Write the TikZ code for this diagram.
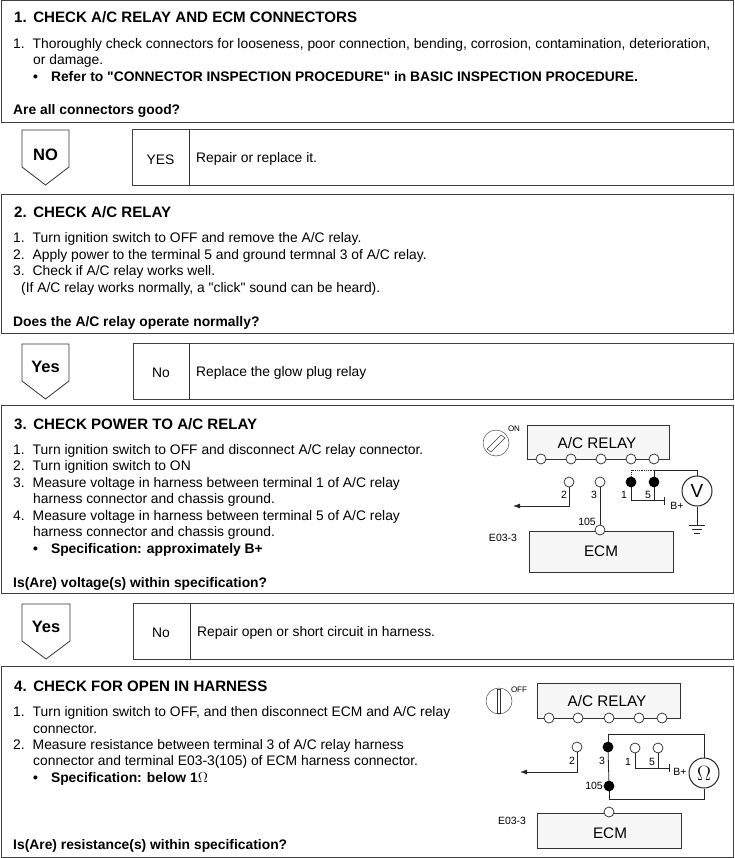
\documentclass[tikz,border=0pt]{standalone}
\usepackage{fontspec}
\setmainfont{Liberation Sans}[Ligatures=TeXOff]
\usetikzlibrary{shapes.geometric,arrows.meta}

\begin{document}
\begin{tikzpicture}
[every node/.style={inner sep=0pt},
 line/.style={line width=0.8pt, color=black!80},
 wire/.style={line width=0.8pt, color=black!85},
 panel/.style={rectangle, draw=black!75, line width=0.9pt, anchor=north west},
 unit/.style={rectangle, draw=black!80, fill=black!3, line width=0.8pt, anchor=north west},
 head/.style={anchor=west, font=\fontsize{15.1}{17}\selectfont\bfseries},
 body/.style={anchor=west, yshift=-1pt, font=\fontsize{13.85}{16}\selectfont},
 ask/.style={anchor=west, yshift=-1pt, font=\fontsize{13.85}{16}\selectfont\bfseries},
 tag/.style={font=\fontsize{13.85}{16}\selectfont},
 arrowlabel/.style={font=\fontsize{16.5}{18}\selectfont\bfseries},
 unitlabel/.style={font=\fontsize{15.3}{17}\selectfont},
 small/.style={font=\fontsize{10.5}{12}\selectfont},
 tiny/.style={font=\fontsize{8}{9}\selectfont},
 pinopen/.style={circle, minimum size=10pt, fill=white, draw=black!85, line width=0.7pt},
 pinfull/.style={circle, minimum size=10pt, fill=black, draw=black, line width=0.7pt},
 meter/.style={circle, minimum size=30pt, fill=white, draw=black!85, line width=1pt}]
\useasboundingbox (0pt,0pt) rectangle (734pt,-858pt);

% step 1
\node (panel1) [panel, minimum width=732pt, minimum height=122pt] at (1pt, 0pt) {};
\node (head1) [head] at (14pt, -17pt) {1.\hspace{6.5pt}CHECK A/C RELAY AND ECM CONNECTORS};
\node (text11) [body] at (13pt, -44pt) {1.\hspace{8pt}Thoroughly check connectors for looseness, poor connection, bending, corrosion, contamination, deterioration,};
\node (text12) [body] at (33pt, -60pt) {or damage.};
\node (text13) [ask] at (33pt, -76pt) {\textbullet\hspace{13pt}Refer to "CONNECTOR INSPECTION PROCEDURE" in BASIC INSPECTION PROCEDURE.};
\node (ask1) [ask] at (13pt, -110pt) {Are all connectors good?};

\draw [line] (22pt,-130pt) -- (69pt,-130pt) -- (69pt,-167pt) -- (45.5pt,-185pt) -- (22pt,-167pt) -- cycle;
\node (go1) [arrowlabel] at (45.5pt, -155pt) {NO};
\node (side1) [panel, minimum width=601pt, minimum height=56pt] at (132pt, -129pt) {};
\coordinate (cut1a) at (189pt, -129pt);
\coordinate (cut1b) at (189pt, -185pt);
\draw [line] (cut1a) to (cut1b);
\node (tag1) [tag] at (160.5pt, -160pt) {YES};
\node (fix1) [body] at (196pt, -158pt) {Repair or replace it.};

% step 2
\node (panel2) [panel, minimum width=732pt, minimum height=139pt] at (1pt, -194pt) {};
\node (head2) [head] at (14pt, -212pt) {2.\hspace{6.5pt}CHECK A/C RELAY};
\node (text21) [body] at (13pt, -238pt) {1.\hspace{8pt}Turn ignition switch to OFF and remove the A/C relay.};
\node (text22) [body] at (13pt, -255pt) {2.\hspace{8pt}Apply power to the terminal 5 and ground termnal 3 of A/C relay.};
\node (text23) [body] at (13pt, -271pt) {3.\hspace{8pt}Check if A/C relay works well.};
\node (text24) [body] at (21pt, -288pt) {(If A/C relay works normally, a "click" sound can be heard).};
\node (ask2) [ask] at (13pt, -322pt) {Does the A/C relay operate normally?};

\draw [line] (22pt,-344pt) -- (69pt,-344pt) -- (69pt,-381pt) -- (45.5pt,-399pt) -- (22pt,-381pt) -- cycle;
\node (go2) [arrowlabel] at (45.5pt, -367pt) {Yes};
\node (side2) [panel, minimum width=600pt, minimum height=56pt] at (133pt, -343pt) {};
\coordinate (cut2a) at (189pt, -343pt);
\coordinate (cut2b) at (189pt, -399pt);
\draw [line] (cut2a) to (cut2b);
\node (tag2) [tag] at (161pt, -373pt) {No};
\node (fix2) [body] at (196pt, -372pt) {Replace the glow plug relay};

% step 3
\node (panel3) [panel, minimum width=732pt, minimum height=188pt] at (1pt, -405pt) {};
\node (head3) [head] at (14pt, -424pt) {3.\hspace{6.5pt}CHECK POWER TO A/C RELAY};
\node (text31) [body] at (13pt, -450pt) {1.\hspace{8pt}Turn ignition switch to OFF and disconnect A/C relay connector.};
\node (text32) [body] at (13pt, -466pt) {2.\hspace{8pt}Turn ignition switch to ON};
\node (text33) [body] at (13pt, -483pt) {3.\hspace{8pt}Measure voltage in harness between terminal 1 of A/C relay};
\node (text34) [body] at (33pt, -499pt) {harness connector and chassis ground.};
\node (text35) [body] at (13pt, -516pt) {4.\hspace{8pt}Measure voltage in harness between terminal 5 of A/C relay};
\node (text36) [body] at (33pt, -532pt) {harness connector and chassis ground.};
\node (text37) [ask] at (33pt, -549pt) {\textbullet\hspace{13pt}Specification: approximately B+};
\node (ask3) [ask] at (13pt, -583pt) {Is(Are) voltage(s) within specification?};

\node (key3) [circle, minimum size=26pt, draw=black!70, line width=0.5pt] at (496pt, -443pt) {};
\draw [line, line width=0.5pt] (487pt,-449pt) -- (501pt,-435pt) -- (505pt,-438pt) -- (491pt,-452pt) -- cycle;
\node (on3) [tiny] at (514pt, -429pt) {ON};
\node (relay3) [unit, minimum width=142pt, minimum height=34pt] at (527pt, -425pt) {};
\node (relaytext3) [unitlabel] at (597pt, -443pt) {A/C RELAY};
\node (a1) [pinopen] at (541pt, -459pt) {};
\node (a2) [pinopen] at (571pt, -459pt) {};
\node (a3) [pinopen] at (601pt, -459pt) {};
\node (a4) [pinopen] at (631pt, -459pt) {};
\node (a5) [pinopen] at (654pt, -459pt) {};
\node (b2) [pinopen] at (569pt, -482pt) {};
\node (b3) [pinopen] at (600pt, -482pt) {};
\node (b1) [pinfull] at (631pt, -482pt) {};
\node (b5) [pinfull] at (654pt, -482pt) {};
\node (ecm3) [unit, minimum width=144pt, minimum height=41pt] at (529pt, -531pt) {};
\node (ecmtext3) [unitlabel] at (601pt, -551pt) {ECM};
\node (e105) [pinopen] at (600pt, -530pt) {};
\node (volt) [meter, font=\fontsize{19}{21}\selectfont] at (697pt, -491pt) {V};
\node (n2) [small] at (564pt, -495pt) {2};
\node (n3) [small] at (594pt, -495pt) {3};
\node (n1) [small] at (624pt, -495pt) {1};
\node (n5) [small] at (648pt, -495pt) {5};
\node (n105) [small] at (587pt, -522pt) {105};
\node (bplus3) [small] at (677pt, -506pt) {B+};
\node (conn3) [small] at (503pt, -538pt) {E03-3};
\coordinate (left3) at (513pt, -506pt);
\coordinate (join3) at (654pt, -500pt);
\coordinate (bartop3) at (664pt, -497pt);
\coordinate (barend3) at (664pt, -505pt);
\coordinate (mid3) at (664pt, -500pt);
\coordinate (over3) at (654pt, -470pt);
\coordinate (overb3) at (631pt, -470pt);
\coordinate (up3) at (697pt, -470pt);
\coordinate (earth3) at (697pt, -525pt);
\coordinate (g1a) at (689pt, -525pt);
\coordinate (g1b) at (705pt, -525pt);
\coordinate (g2a) at (692pt, -529pt);
\coordinate (g2b) at (702pt, -529pt);
\coordinate (g3a) at (694pt, -533pt);
\coordinate (g3b) at (700pt, -533pt);
\draw [wire, -{Latex[length=7pt, width=5pt]}] (b2) |- (left3);
\draw [wire] (b3) to (e105);
\draw [wire] (b1) |- (mid3);
\draw [wire] (b5) to (join3);
\draw [wire] (bartop3) to (barend3);
\draw [wire] (b5) |- (up3) to (volt);
\draw [wire, densely dotted] (over3) to (overb3) to (b1);
\draw [wire] (volt) to (earth3);
\draw [wire] (g1a) to (g1b);
\draw [wire] (g2a) to (g2b);
\draw [wire] (g3a) to (g3b);

\draw [line] (22pt,-604pt) -- (70pt,-604pt) -- (70pt,-641pt) -- (46pt,-659pt) -- (22pt,-641pt) -- cycle;
\node (go3) [arrowlabel] at (46pt, -627pt) {Yes};
\node (side3) [panel, minimum width=600pt, minimum height=56pt] at (133pt, -603pt) {};
\coordinate (cut3a) at (190pt, -603pt);
\coordinate (cut3b) at (190pt, -659pt);
\draw [line] (cut3a) to (cut3b);
\node (tag3) [tag] at (161pt, -633pt) {No};
\node (fix3) [body] at (197pt, -632pt) {Repair open or short circuit in harness.};

% step 4
\node (panel4) [panel, minimum width=732pt, minimum height=191pt] at (1pt, -666pt) {};
\node (head4) [head] at (14pt, -686pt) {4.\hspace{6.5pt}CHECK FOR OPEN IN HARNESS};
\node (text41) [body] at (13pt, -712pt) {1.\hspace{8pt}Turn ignition switch to OFF, and then disconnect ECM and A/C relay};
\node (text42) [body] at (33pt, -728pt) {connector.};
\node (text43) [body] at (13pt, -745pt) {2.\hspace{8pt}Measure resistance between terminal 3 of A/C relay harness};
\node (text44) [body] at (33pt, -761pt) {connector and terminal E03-3(105) of ECM harness connector.};
\node (text45) [ask] at (33pt, -778pt) {\textbullet\hspace{13pt}Specification: below 1$\Omega$};
\node (ask4) [ask] at (13pt, -845pt) {Is(Are) resistance(s) within specification?};

\node (key4) [circle, minimum size=26pt, draw=black!70, line width=0.5pt] at (499pt, -701pt) {};
\draw [line, line width=0.5pt] (497.5pt,-689pt) rectangle (500.5pt,-713pt);
\node (off4) [tiny] at (519pt, -690pt) {OFF};
\node (relay4) [unit, minimum width=143pt, minimum height=35pt] at (537pt, -683pt) {};
\node (relaytext4) [unitlabel] at (607pt, -701pt) {A/C RELAY};
\node (c1) [pinopen] at (549pt, -718pt) {};
\node (c2) [pinopen] at (578pt, -718pt) {};
\node (c3) [pinopen] at (609pt, -718pt) {};
\node (c4) [pinopen] at (639pt, -718pt) {};
\node (c5) [pinopen] at (662pt, -718pt) {};
\node (d2) [pinopen] at (577pt, -747pt) {};
\node (d3) [pinfull] at (608pt, -747pt) {};
\node (d1) [pinopen] at (635pt, -748pt) {};
\node (d5) [pinopen] at (658pt, -748pt) {};
\node (d105) [pinfull] at (609pt, -786pt) {};
\node (ecm4) [unit, minimum width=144pt, minimum height=35pt] at (537pt, -813pt) {};
\node (ecmtext4) [unitlabel] at (610pt, -833pt) {ECM};
\node (e4) [pinopen] at (609pt, -812pt) {};
\node (ohm) [meter, font=\fontsize{20}{22}\selectfont] at (704pt, -773pt) {$\Omega$};
\node (m2) [small] at (572pt, -761pt) {2};
\node (m3) [small] at (602pt, -761pt) {3};
\node (m1) [small] at (628pt, -762pt) {1};
\node (m5) [small] at (652pt, -762pt) {5};
\node (m105) [small] at (594pt, -786pt) {105};
\node (bplus4) [small] at (680pt, -772pt) {B+};
\node (conn4) [small] at (512pt, -821pt) {E03-3};
\coordinate (left4) at (520pt, -772pt);
\coordinate (mid4) at (669pt, -768pt);
\coordinate (join4) at (658pt, -768pt);
\coordinate (bartop4) at (669pt, -764pt);
\coordinate (barend4) at (669pt, -772pt);
\coordinate (up4) at (704pt, -734pt);
\coordinate (low4) at (704pt, -799pt);
\coordinate (back4) at (609pt, -799pt);
\draw [wire, -{Latex[length=7pt, width=5pt]}] (d2) |- (left4);
\draw [wire] (d1) |- (mid4);
\draw [wire] (d5) to (join4);
\draw [wire] (bartop4) to (barend4);
\draw [wire] (d3) |- (up4) to (ohm);
\draw [wire] (ohm) to (low4) to (back4) to (d105);
\draw [wire] (d105) to (d3);
\end{tikzpicture}
\end{document}
